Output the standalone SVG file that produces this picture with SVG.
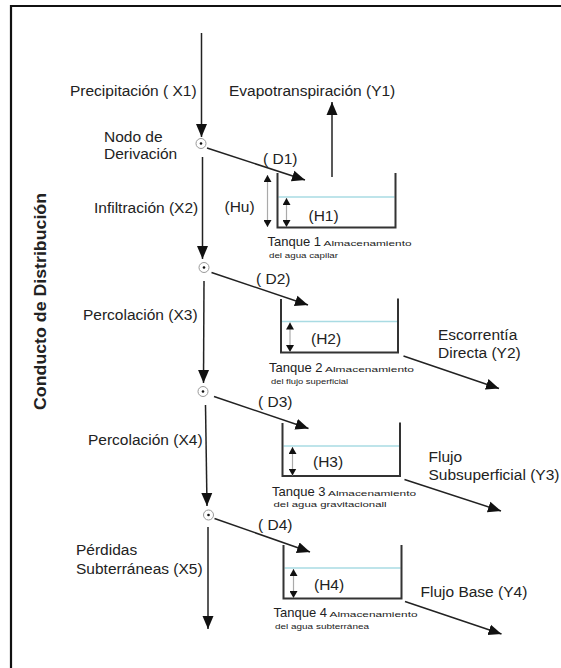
<svg xmlns="http://www.w3.org/2000/svg" width="561" height="668" viewBox="0 0 561 668">
<style>
text{font-family:"Liberation Sans",Arial,Helvetica,sans-serif;fill:#222}
.lb{font-size:15.5px}
.tk{font-size:13px}
.sm{font-size:8px}
.ttl{font-size:16px;font-weight:bold}
.flow{stroke:#222;stroke-width:1.5;fill:none}
.wall{stroke:#333;stroke-width:2;fill:none}
.water{stroke:#a9dbe3;stroke-width:1.3}
.dim{stroke:#aaa;stroke-width:1.2}
.ring{fill:#fff;stroke:#999;stroke-width:1}
.dot{fill:#111}
</style>
<defs>
<marker id="ah" markerUnits="userSpaceOnUse" markerWidth="14" markerHeight="12" refX="13" refY="6" orient="auto"><path d="M0,0.5 L13,6 L0,11.5 z" fill="#111"/></marker>
<marker id="ad" markerUnits="userSpaceOnUse" markerWidth="8" markerHeight="8" refX="7" refY="4" orient="auto-start-reverse"><path d="M0,0 L7,4 L0,8 z" fill="#111"/></marker>
</defs>

<path d="M11,668 V6 H561" fill="none" stroke="#111" stroke-width="2.2"/>

<text class="ttl" transform="translate(45.5,301.5) rotate(-90)" text-anchor="middle" textLength="217" lengthAdjust="spacingAndGlyphs">Conducto de Distribución</text>

<g id="connectors">
  <line class="flow" x1="201.5" y1="33" x2="201.5" y2="137" marker-end="url(#ah)"/>
  <line class="flow" x1="202.5" y1="157" x2="202.5" y2="259" marker-end="url(#ah)"/>
  <line class="flow" x1="204" y1="281" x2="203.5" y2="383" marker-end="url(#ah)"/>
  <line class="flow" x1="205.5" y1="405" x2="207" y2="506" marker-end="url(#ah)"/>
  <line class="flow" x1="208" y1="527" x2="208" y2="629" marker-end="url(#ah)"/>
  <line class="flow" x1="207" y1="148" x2="305" y2="180" marker-end="url(#ah)"/>
  <line class="flow" x1="211.5" y1="272.5" x2="308" y2="305" marker-end="url(#ah)"/>
  <line class="flow" x1="214" y1="396.5" x2="308.5" y2="428.5" marker-end="url(#ah)"/>
  <line class="flow" x1="214.5" y1="518.5" x2="310" y2="552" marker-end="url(#ah)"/>
  <line class="flow" x1="332" y1="177" x2="332" y2="102" marker-end="url(#ah)"/>
  <line class="flow" x1="403.5" y1="356" x2="499" y2="388.5" marker-end="url(#ah)"/>
  <line class="flow" x1="404.5" y1="479.5" x2="501" y2="511" marker-end="url(#ah)"/>
  <line class="flow" x1="405" y1="601.5" x2="501.5" y2="634" marker-end="url(#ah)"/>
</g>

<g id="labels">
  <text class="lb" x="70" y="96">Precipitación ( X1)</text>
  <text class="lb" x="229" y="96">Evapotranspiración (Y1)</text>
  <text class="lb" x="104" y="142">Nodo de</text>
  <text class="lb" x="104" y="159">Derivación</text>
  <text class="lb" x="263" y="164">( D1)</text>
  <text class="lb" x="94" y="213">Infiltración (X2)</text>
  <text class="lb" x="256" y="283.5">( D2)</text>
  <text class="lb" x="83" y="320">Percolación (X3)</text>
  <text class="lb" x="258" y="407">( D3)</text>
  <text class="lb" x="88" y="445">Percolación (X4)</text>
  <text class="lb" x="258" y="530">( D4)</text>
  <text class="lb" x="76" y="555">Pérdidas</text>
  <text class="lb" x="76" y="573.5">Subterráneas (X5)</text>
  <text class="lb" x="438" y="340">Escorrentía</text>
  <text class="lb" x="438" y="358">Directa (Y2)</text>
  <text class="lb" x="428.5" y="462">Flujo</text>
  <text class="lb" x="428.5" y="479.5">Subsuperficial (Y3)</text>
  <text class="lb" x="420.5" y="597">Flujo Base (Y4)</text>
</g>

<g id="node1"><circle class="ring" cx="201" cy="143.5" r="5"/><circle class="dot" cx="201" cy="143.5" r="1.3"/></g>
<g id="node2"><circle class="ring" cx="204" cy="267.5" r="5"/><circle class="dot" cx="204" cy="267.5" r="1.3"/></g>
<g id="node3"><circle class="ring" cx="203" cy="391.5" r="5"/><circle class="dot" cx="203" cy="391.5" r="1.3"/></g>
<g id="node4"><circle class="ring" cx="208.5" cy="515" r="5"/><circle class="dot" cx="208.5" cy="515" r="1.3"/></g>

<g id="tank1">
  <line class="water" x1="278.5" y1="197" x2="394.5" y2="197"/>
  <path class="wall" d="M277.5,173 V227.5 H395.5 V173"/>
  <line class="dim" x1="267.5" y1="175" x2="267.5" y2="227" marker-start="url(#ad)" marker-end="url(#ad)"/>
  <line class="dim" x1="286.5" y1="198" x2="286.5" y2="227" marker-start="url(#ad)" marker-end="url(#ad)"/>
  <text class="lb" x="224.5" y="212">(Hu)</text>
  <text class="lb" x="308.5" y="221">(H1)</text>
  <text class="tk" x="267.5" y="246">Tanque 1</text>
  <text class="sm" x="323.5" y="246" textLength="88" lengthAdjust="spacingAndGlyphs">Almacenamiento</text>
  <text class="sm" x="269" y="258" textLength="69" lengthAdjust="spacingAndGlyphs">del agua capilar</text>
</g>

<g id="tank2">
  <line class="water" x1="282" y1="321.5" x2="397" y2="321.5"/>
  <path class="wall" d="M281,299 V352.5 H398 V298.5"/>
  <line class="dim" x1="290" y1="322.5" x2="290" y2="352" marker-start="url(#ad)" marker-end="url(#ad)"/>
  <text class="lb" x="311" y="343.5">(H2)</text>
  <text class="tk" x="269" y="371.5">Tanque 2</text>
  <text class="sm" x="325" y="371.5" textLength="89" lengthAdjust="spacingAndGlyphs">Almacenamiento</text>
  <text class="sm" x="271" y="384" textLength="77" lengthAdjust="spacingAndGlyphs">del flujo superficial</text>
</g>

<g id="tank3">
  <line class="water" x1="283.5" y1="446" x2="399" y2="446"/>
  <path class="wall" d="M282.5,423 V476 H400 V422.5"/>
  <line class="dim" x1="292.5" y1="447" x2="292.5" y2="475.5" marker-start="url(#ad)" marker-end="url(#ad)"/>
  <text class="lb" x="313" y="467">(H3)</text>
  <text class="tk" x="272" y="495.5">Tanque 3</text>
  <text class="sm" x="328" y="495.5" textLength="88" lengthAdjust="spacingAndGlyphs">Almacenamiento</text>
  <text class="sm" x="273.5" y="507" textLength="113" lengthAdjust="spacingAndGlyphs">del agua gravitacionall</text>
</g>

<g id="tank4">
  <line class="water" x1="284.5" y1="568" x2="400.5" y2="568"/>
  <path class="wall" d="M283.5,545 V598.5 H401.5 V545"/>
  <line class="dim" x1="293.5" y1="569" x2="293.5" y2="598" marker-start="url(#ad)" marker-end="url(#ad)"/>
  <text class="lb" x="314" y="590">(H4)</text>
  <text class="tk" x="273.5" y="617">Tanque 4</text>
  <text class="sm" x="329.5" y="617" textLength="88" lengthAdjust="spacingAndGlyphs">Almacenamiento</text>
  <text class="sm" x="275" y="629" textLength="94" lengthAdjust="spacingAndGlyphs">del agua subterránea</text>
</g>
</svg>
